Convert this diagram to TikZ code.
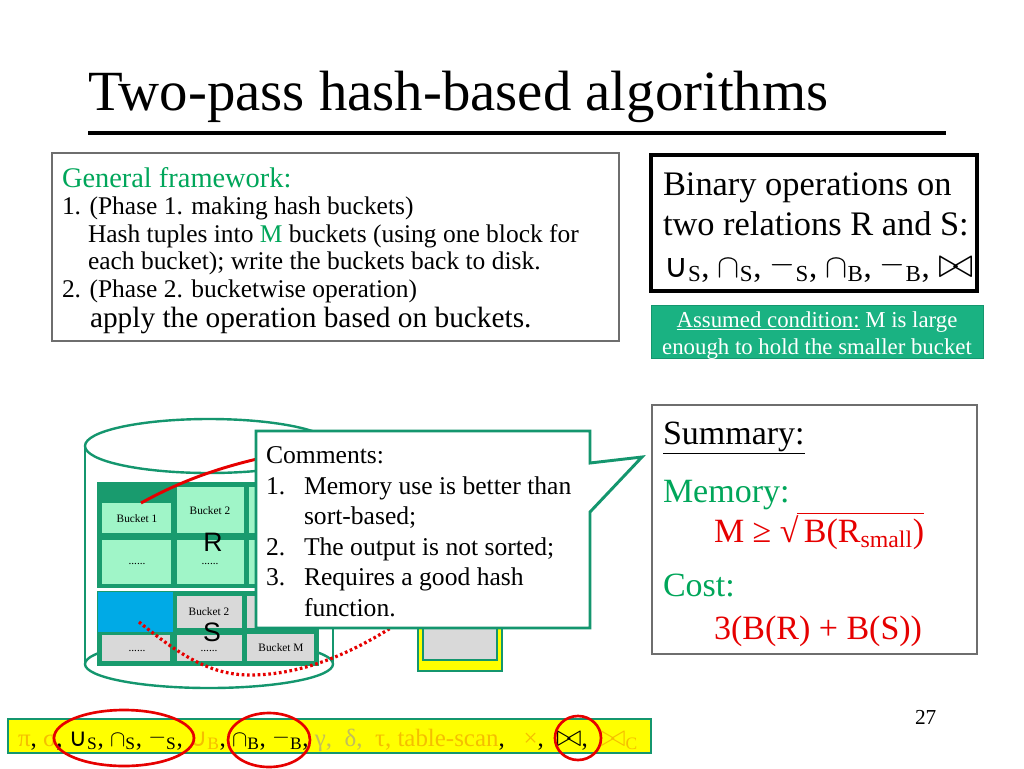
\documentclass[tikz,border=0pt]{standalone}
\usepackage{graphicx}
\usepackage{fontspec}
\setmainfont{Liberation Serif}
\newfontfamily\symsans{DejaVu Sans}
\newfontfamily\arialf{Liberation Sans}
\definecolor{gtext}{RGB}{0,166,90}
\definecolor{teal1}{RGB}{20,150,110}
\definecolor{tealfill}{RGB}{26,178,130}
\definecolor{mint}{RGB}{160,245,200}
\definecolor{darkframe}{RGB}{25,155,110}
\definecolor{cellgray}{RGB}{217,217,217}
\definecolor{cellblue}{RGB}{0,170,230}
\definecolor{redc}{RGB}{230,0,0}
\definecolor{fadeor}{RGB}{245,190,0}
\definecolor{fadegr}{RGB}{195,190,90}
\definecolor{boxgray}{RGB}{110,110,110}
\definecolor{yel}{RGB}{255,255,0}
\tikzset{
  txt/.style={anchor=base west, inner sep=0pt, outer sep=0pt},
  bucketlbl/.style={inner sep=0pt, font=\fontsize{8.5}{9}\selectfont},
  rcell/.style={fill=mint, draw=darkframe, line width=0.8pt},
  scell/.style={fill=cellgray, draw=darkframe, line width=0.8pt},
}
\newcommand{\cupS}{{\symsans ∪}}
\newcommand{\capS}{\ensuremath{\cap}}
\newcommand{\minS}{\raisebox{0.12em}{\ensuremath{-}}}
\newcommand{\bowS}[1]{\scalebox{#1}{$\bowtie$}}
\begin{document}
\begin{tikzpicture}[x=0.75pt,y=-0.75pt]
\useasboundingbox[fill=white] (0,0) rectangle (1024,768);

% title
\node[txt, font=\fontsize{42.6}{46}\selectfont] (title) at (88,110) {Two-pass hash-based algorithms};
\draw[line width=3pt] (88,133) -- (946,133);

% general framework box
\draw[boxgray, line width=0.8pt] (52,153) rectangle (619,341);
\node[txt, font=\fontsize{21.3}{24}\selectfont, text=gtext] (gf1) at (62,187) {General framework:};
\node[txt, font=\fontsize{19.1}{22}\selectfont] (gf2) at (62,214) {1. (Phase 1. making hash buckets)};
\node[txt, font=\fontsize{19.1}{22}\selectfont] (gf3) at (88,242) {Hash tuples into \textcolor{gtext}{M} buckets (using one block for};
\node[txt, font=\fontsize{19.1}{22}\selectfont] (gf4) at (88,269) {each bucket); write the buckets back to disk.};
\node[txt, font=\fontsize{19.1}{22}\selectfont] (gf5) at (62,297) {2. (Phase 2. bucketwise operation)};
\node[txt, font=\fontsize{22}{24}\selectfont] (gf6) at (90,327) {apply the operation based on buckets.};

% binary operations box
\draw[black, line width=3pt] (651,155) rectangle (977,291);
\node[txt, font=\fontsize{25.8}{28}\selectfont] (bo1) at (663,195) {Binary operations on};
\node[txt, font=\fontsize{25.8}{28}\selectfont] (bo2) at (663,235) {two relations R and S:};
\node[txt, font=\fontsize{24.6}{28}\selectfont] (bo3) at (664,277) {\cupS\textsubscript{S}, \capS\textsubscript{S}, \minS\textsubscript{S}, \capS\textsubscript{B}, \minS\textsubscript{B}, \bowS{1.3}};

% assumed condition
\fill[tealfill] (651,305) rectangle (983,358);
\draw[teal1, line width=0.6pt] (651,305) rectangle (983,358);
\node[anchor=base, inner sep=0pt, font=\fontsize{17.1}{18}\selectfont, text=white] (ac1) at (817,327) {\underline{Assumed condition:} M is large};
\node[anchor=base, inner sep=0pt, font=\fontsize{17.1}{18}\selectfont, text=white] (ac2) at (817,354) {enough to hold the smaller bucket};

% summary box
\draw[boxgray, line width=0.8pt] (652,405) rectangle (977,654);
\node[txt, font=\fontsize{25.5}{28}\selectfont] (sum) at (663,444) {\underline{Summary:}};
\node[txt, font=\fontsize{25.5}{28}\selectfont, text=gtext] (mem) at (663,502) {Memory:};
\node[txt, font=\fontsize{25.5}{28}\selectfont, text=redc] (mge) at (714,542) {M ≥ √};
\node[txt, font=\fontsize{25.5}{28}\selectfont, text=redc, xshift=4pt] (brs) at (mge.base east) {B(R\textsubscript{small})};
\draw[redc, line width=1pt] ([xshift=-1pt, yshift=1pt]mge.north east) -- ([yshift=1pt]mge.north east -| brs.east);
\node[txt, font=\fontsize{25.5}{28}\selectfont, text=gtext] (cost) at (663,596) {Cost:};
\node[txt, font=\fontsize{25.5}{28}\selectfont, text=redc] (cst) at (714,639) {3(B(R) + B(S))};

% cylinder
\path[fill=white] (85,446) -- (85,664) arc[start angle=180, end angle=360, x radius=124, y radius=-24] -- (333,446) -- cycle;
\draw[teal1, line width=1.8pt] (85,446) -- (85,664);
\draw[teal1, line width=1.8pt] (333,446) -- (333,664);
\draw[teal1, line width=1.8pt] (209,664) ellipse [x radius=124, y radius=24];
\draw[teal1, line width=1.8pt, fill=white] (209,446) ellipse [x radius=124, y radius=27];

% R block
\fill[darkframe] (97,482) rectangle (325,588);
\path[rcell] (101,502) rectangle (172,534);
\path[rcell] (176,486) rectangle (245,534);
\path[rcell] (248,486) rectangle (320,534);
\path[rcell] (101,539) rectangle (172,585);
\path[rcell] (176,539) rectangle (245,585);
\path[rcell] (248,539) rectangle (320,585);
\node[bucketlbl] (rb1) at (137,519) {Bucket 1};
\node[bucketlbl] (rb2) at (210,511) {Bucket 2};
\node[bucketlbl] (rd1) at (137,564) {......};
\node[bucketlbl] (rd2) at (210,564) {......};
\node[inner sep=0pt, font=\arialf\fontsize{20}{22}\selectfont] (rlab) at (213,542) {R};

% S block
\fill[darkframe] (97,591) rectangle (319,666);
\fill[cellblue] (98,592) rectangle (173,632);
\path[scell] (176,595) rectangle (243,629);
\path[scell] (246,595) rectangle (315,629);
\path[scell] (101,634) rectangle (171,662);
\path[scell] (176,634) rectangle (243,662);
\path[scell] (246,633) rectangle (315,662);
\node[bucketlbl] (sb2) at (209,612) {Bucket 2};
\node[bucketlbl] (sd1) at (137,651) {......};
\node[bucketlbl] (sd2) at (209,651) {......};
\node[bucketlbl] (sbm) at (281,648) {Bucket M};
\node[inner sep=0pt, font=\arialf\fontsize{20}{22}\selectfont] (slab) at (212,632) {S};

% memory (yellow) box
\draw[teal1, fill=yel, line width=1.6pt] (418,600) rectangle (502,671);
\draw[teal1, fill=cellgray, line width=1.6pt] (423,600) rectangle (497,660);

% red curves
\draw[redc, line width=2.2pt] (141,503) .. controls (190,476) and (235,462) .. (300,450);
\draw[redc, line width=2.4pt, dash pattern=on 2pt off 2pt] (139,622) .. controls (180,655) and (210,675) .. (250,675) .. controls (300,675) and (350,655) .. (400,622);

% callout
\draw[teal1, line width=2.2pt, fill=white, line join=miter] (256,431) -- (590,431) -- (590,463) -- (642,457) -- (590,512) -- (590,628) -- (256,628) -- cycle;
\node[txt, font=\fontsize{19.2}{20}\selectfont] (cm0) at (266,463) {Comments:};
\node[txt, font=\fontsize{19.2}{20}\selectfont] (cm1n) at (266,494) {1.};
\node[txt, font=\fontsize{19.2}{20}\selectfont] (cm1) at (304,494) {Memory use is better than};
\node[txt, font=\fontsize{19.2}{20}\selectfont] (cm1b) at (304,524) {sort-based;};
\node[txt, font=\fontsize{19.2}{20}\selectfont] (cm2n) at (266,555) {2.};
\node[txt, font=\fontsize{19.2}{20}\selectfont] (cm2) at (304,555) {The output is not sorted;};
\node[txt, font=\fontsize{19.2}{20}\selectfont] (cm3n) at (266,585) {3.};
\node[txt, font=\fontsize{19.2}{20}\selectfont] (cm3) at (304,585) {Requires a good hash};
\node[txt, font=\fontsize{19.2}{20}\selectfont] (cm3b) at (304,616) {function.};

% bottom bar
\draw[teal1, fill=yel, line width=2.2pt] (8,719) rectangle (651,753);
\node[txt, font=\fontsize{18.7}{20}\selectfont] (ops) at (18,746) {\textcolor{fadeor}{π}, \textcolor{fadeor}{σ}, \cupS\textsubscript{S}, \capS\textsubscript{S}, \minS\textsubscript{S}, \textcolor{fadeor}{\cupS\textsubscript{B}}, \capS\textsubscript{B}, \minS\textsubscript{B}, \textcolor{fadegr}{γ,\ \ δ,}\ \ \textcolor{fadeor}{τ, table-scan}, \ \ \textcolor{fadeor}{×}, \ \bowS{1.35},\ \ \textcolor{fadeor}{\bowS{1.35}\textsubscript{C}}};
\draw[redc, line width=2pt] (124,738) ellipse [x radius=70, y radius=28];
\draw[redc, line width=2pt] (269,740) ellipse [x radius=41, y radius=27];
\draw[redc, line width=2pt] (578,738) ellipse [x radius=23, y radius=22];

% page number
\node[txt, font=\fontsize{16}{18}\selectfont] (pg) at (915,724) {27};
\end{tikzpicture}
\end{document}
